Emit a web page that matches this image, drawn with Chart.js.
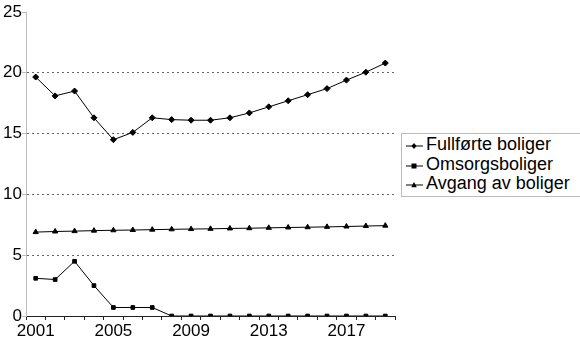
<!DOCTYPE html>
<html>
<head>
<meta charset="utf-8">
<script src="https://cdn.jsdelivr.net/npm/chart.js@4"></script>
<style>
  body { margin: 0; background: #fff; overflow: hidden; }
  #wrap { position: absolute; left: 0; top: 0; width: 400px; height: 340px; }
  #legend {
    position: absolute; left: 401px; top: 133px; width: 190px; height: 62px;
    border: 1px solid #bbb; padding: 0 0 0 3px;
    font-family: "Liberation Sans", Arial, sans-serif; font-size: 18px; color: #000;
  }
  #legend div { height: 19.6px; line-height: 20px; white-space: nowrap; }
  #legend svg { vertical-align: -1px; margin-right: 2px; }
</style>
</head>
<body>
<div id="wrap"><canvas id="myChart"></canvas></div>
<div id="legend"></div>
<script>
const years = ["2001", "2002", "2003", "2004", "2005", "2006", "2007", "2008", "2009", "2010",
               "2011", "2012", "2013", "2014", "2015", "2016", "2017", "2018", "2019"];
const fullforte = [19.65, 18.1, 18.5, 16.3, 14.5, 15.1, 16.3, 16.15, 16.1, 16.1,
                   16.3, 16.7, 17.2, 17.7, 18.2, 18.7, 19.4, 20.05, 20.8];
const omsorg = [3.1, 3.0, 4.5, 2.5, 0.7, 0.7, 0.7, 0, 0, 0,
                0, 0, 0, 0, 0, 0, 0, 0, 0];
const avgang = [6.9, 6.95, 6.98, 7.02, 7.05, 7.07, 7.1, 7.13, 7.15, 7.17,
                7.2, 7.22, 7.25, 7.28, 7.3, 7.33, 7.36, 7.4, 7.43];
const seriesNames = ["Fullførte boliger", "Omsorgsboliger", "Avgang av boliger"];
const yTicks = [0, 5, 10, 15, 20, 25];

const font = { family: "Liberation Sans, Arial, sans-serif", size: 17 };

const ctx = document.getElementById("myChart");

let myChart = new Chart(ctx, {
    type: "line",
    data: {
        labels: years,
        datasets: [
            {
                label: seriesNames[0],
                data: fullforte,
                borderColor: "#000",
                backgroundColor: "#000",
                borderWidth: 1,
                pointStyle: "rectRot",
                pointRadius: 3,
            },
            {
                label: seriesNames[1],
                data: omsorg,
                borderColor: "#000",
                backgroundColor: "#000",
                borderWidth: 1,
                pointStyle: "rect",
                pointRadius: 2.6,
            },
            {
                label: seriesNames[2],
                data: avgang,
                borderColor: "#000",
                backgroundColor: "#000",
                borderWidth: 1,
                pointStyle: "triangle",
                pointRadius: 3,
            },
        ],
    },
    options: {
        responsive: true,
        maintainAspectRatio: false,
        animation: false,
        layout: { padding: { top: 12, right: 5, left: 0, bottom: 0 } },
        plugins: {
            legend: { display: false },
            tooltip: { enabled: false }
        },
        scales: {
            x: {
                offset: true,
                border: { color: "#222", width: 1 },
                grid: {
                    offset: true,
                    drawOnChartArea: false,
                    tickLength: 4,
                    tickColor: "#222"
                },
                ticks: {
                    autoSkip: false,
                    maxRotation: 0,
                    padding: 1,
                    color: "#000",
                    font: font,
                    callback: function (val, i) { return i % 4 === 0 ? years[i] : ""; }
                },
                afterFit: function (s) { s.height = 24; }
            },
            y: {
                min: 0,
                max: 25,
                border: { color: "#bbb", width: 1, dash: [2, 3] },
                afterBuildTicks: function (s) { s.ticks = yTicks.map(v => ({ value: v })); },
                grid: {
                    color: function (c) {
                        return (c.tick && c.tick.value > 0 && c.tick.value < 25) ? "#666" : "rgba(0,0,0,0)";
                    },
                    tickLength: 4,
                    tickColor: "#bbb",
                    tickBorderDash: []
                },
                ticks: {
                    padding: 0,
                    color: "#000",
                    font: font
                },
                afterFit: function (s) { s.width = 26; }
            }
        }
    }
});

// legend with line + marker glyphs
const glyphs = [
    '<polygon points="9,2 11.5,5 9,8 6.5,5" fill="#000"/>',
    '<rect x="6.5" y="2.5" width="5" height="5" fill="#000"/>',
    '<polygon points="9,2 11.8,7.3 6.2,7.3" fill="#000"/>'
];
document.getElementById("legend").innerHTML = seriesNames.map(function (name, i) {
    return '<div><svg width="19" height="10"><line x1="1" y1="5" x2="18" y2="5" stroke="#000" stroke-width="1"/>' +
        glyphs[i] + '</svg>' + name + '</div>';
}).join("");
</script>
</body>
</html>
